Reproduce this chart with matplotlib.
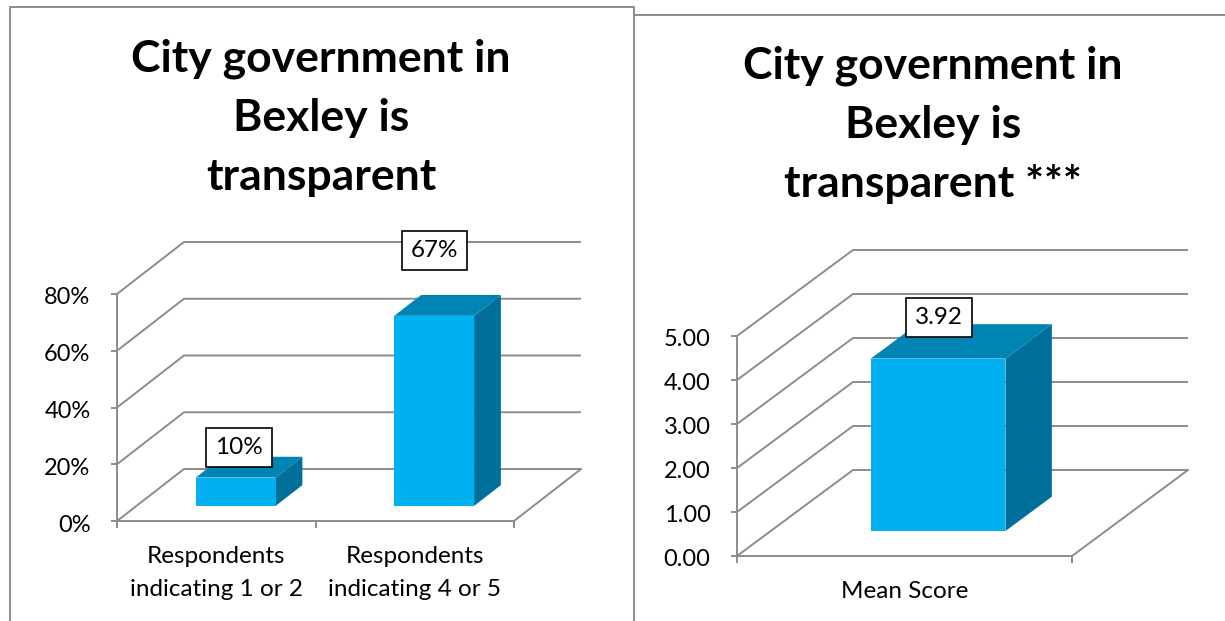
import matplotlib
matplotlib.use("Agg")
import matplotlib.pyplot as plt
from matplotlib.lines import Line2D
from matplotlib.patches import Polygon
from matplotlib.transforms import Affine2D

# ---- data ----
left_title = "City government in\nBexley is\ntransparent"
left_categories = ["Respondents\nindicating 1 or 2", "Respondents\nindicating 4 or 5"]
left_values = [10, 67]
left_labels = ["10%", "67%"]
left_ticks = [0, 20, 40, 60, 80]
left_ticklabels = ["0%", "20%", "40%", "60%", "80%"]

right_title = "City government in\nBexley is\ntransparent ***"
right_categories = ["Mean Score"]
right_values = [3.92]
right_labels = ["3.92"]
right_ticks = [0, 1, 2, 3, 4, 5]
right_ticklabels = ["0.00", "1.00", "2.00", "3.00", "4.00", "5.00"]

# ---- style ----
W, H = 1225, 621
GREY = "#8c8c8c"
FRONT, TOP, SIDE = "#00B0F0", "#0084B4", "#00709B"
plt.rcParams["font.family"] = ["Lato", "DejaVu Sans"]

fig = plt.figure(figsize=(W / 100, H / 100), dpi=100)


def fx(px):
    return px / W


def fy(py):
    return 1 - py / H


def panel(x0, x1, ytop, ybot, depth_px, ymax, cats, vals, labels, ticks, ticklabels, offsets):
    ax = fig.add_axes([fx(x0), fy(ybot), fx(x1 - x0), (ybot - ytop) / H])
    n = len(cats)
    ax.set_xlim(0, n)
    ax.set_ylim(0, ymax)
    ax.patch.set_alpha(0)
    for s in ("top", "right"):
        ax.spines[s].set_visible(False)
    for s in ("left", "bottom"):
        ax.spines[s].set_color(GREY)
        ax.spines[s].set_linewidth(1.4)

    # oblique depth, expressed in data units per unit of depth
    dx = depth_px[0] / ((x1 - x0) / n)
    dy = depth_px[1] / ((ybot - ytop) / ymax)

    def proj(x, y, z):
        return x + z * dx, y + z * dy

    # walls and floor
    for v in ticks:
        p = [proj(0, v, 0), proj(0, v, 1), proj(n, v, 1)]
        ax.plot(*zip(*p), color=GREY, lw=1.4, clip_on=False, zorder=1, solid_capstyle="butt")
    p = [proj(n, 0, 0), proj(n, 0, 1)]
    ax.plot(*zip(*p), color=GREY, lw=1.4, clip_on=False, zorder=1)

    # ticks and labels
    ax.set_yticks(ticks, ticklabels)
    ax.set_xticks(range(n + 1), [""] * (n + 1))
    ax.set_xticks([i + 0.5 for i in range(n)], cats, minor=True)
    ax.tick_params(axis="y", length=4, width=1.4, color=GREY, labelsize=17, pad=15, labelcolor="black")
    ax.tick_params(axis="x", which="major", length=5, width=1.4, color=GREY)
    ax.tick_params(axis="x", which="minor", length=0, labelsize=17.5, pad=18, labelcolor="black")
    for t in ax.get_xticklabels(minor=True):
        t.set_linespacing(1.7)
        t.set_ha("center")
    for t in ax.get_yticklabels():
        t.set_transform(t.get_transform() + Affine2D().translate(0, -2))

    # bars
    bw, z0, z1 = 0.402, 0.29, 0.69
    for i, (v, lab, off) in enumerate(zip(vals, labels, offsets)):
        l, r = i + 0.5 - bw / 2, i + 0.5 + bw / 2
        front = [proj(l, 0, z0), proj(r, 0, z0), proj(r, v, z0), proj(l, v, z0)]
        top = [proj(l, v, z0), proj(r, v, z0), proj(r, v, z1), proj(l, v, z1)]
        side = [proj(r, 0, z0), proj(r, 0, z1), proj(r, v, z1), proj(r, v, z0)]
        ax.add_patch(Polygon(side, fc=SIDE, ec="none", clip_on=False, zorder=3))
        ax.add_patch(Polygon(top, fc=TOP, ec="none", clip_on=False, zorder=3))
        ax.add_patch(Polygon(front, fc=FRONT, ec="none", clip_on=False, zorder=4))
        ax.annotate(lab, proj(i + 0.5, v, (z0 + z1) / 2), xytext=off, textcoords="offset pixels",
                    ha="center", va="center", fontsize=17.5, color="black", zorder=6,
                    annotation_clip=False,
                    bbox=dict(boxstyle="square,pad=0.37", fc="white", ec="black", lw=1.2))


panel(117, 514, 294, 521, (67, 52), 80, left_categories, left_values, left_labels,
      left_ticks, left_ticklabels, [(-10, 20), (-13, 54.5)])
panel(737, 1072, 336, 556, (116, 86), 5, right_categories, right_values, right_labels,
      right_ticks, right_ticklabels, [(-22.5, 23.5)])

# titles
for cx, cy, title in [(321, 118, left_title), (933, 125, right_title)]:
    fig.text(fx(cx), fy(cy), title, ha="center", va="center", fontsize=32,
             fontweight="bold", color="black", linespacing=1.57)

# panel borders
for xs, ys in [((10, 10, 634, 634), (H, 7, 7, H)), ((634, W), (15, 15))]:
    fig.add_artist(Line2D([fx(x) for x in xs], [fy(y) for y in ys], color=GREY, lw=1.4))

fig.savefig("out.png", dpi=100)
